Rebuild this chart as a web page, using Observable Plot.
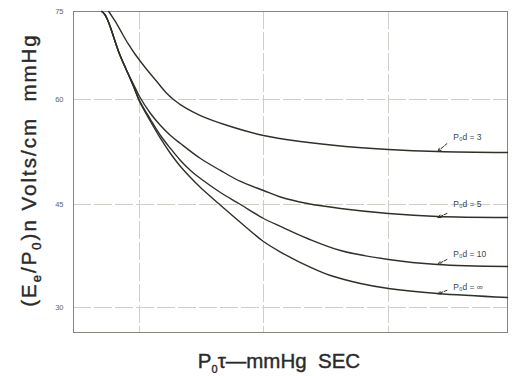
<!DOCTYPE html>
<html><head><meta charset="utf-8">
<script src="https://cdn.jsdelivr.net/npm/d3@7"></script>
<script src="https://cdn.jsdelivr.net/npm/@observablehq/plot@0.6"></script>
<style>
body{margin:0;background:#fff}
#chart{width:528px;height:376px}
</style>
</head><body><div id="chart"></div>
<script>
// ---- data ----
const seriesNames = ["d3", "d5", "d10", "dinf"];

const tauD3 = [5.62e-6, 6.05e-6, 6.65e-6, 7.30e-6, 8.15e-6, 9.12e-6, 1.019e-5, 1.18e-5, 1.40e-5, 1.62e-5, 1.88e-5, 2.35e-5, 3.10e-5, 5.13e-5, 1e-4, 1.98e-4, 4.53e-4, 1e-3, 2.58e-3, 1e-2];
const eD3   = [75, 73.98, 72.61, 71.08, 69.38, 67.84, 66.48, 64.77, 62.90, 61.28, 60.0, 58.79, 57.71, 56.29, 54.86, 54.0, 53.29, 52.86, 52.57, 52.43];

const tauD5 = [4.94e-6, 5.22e-6, 5.52e-6, 5.84e-6, 6.29e-6, 6.90e-6, 7.86e-6, 8.95e-6, 1e-5, 1.227e-5, 1.477e-5, 1.778e-5, 2.141e-5, 3.103e-5, 4.498e-5, 6.525e-5, 1e-4, 1.368e-4, 2.249e-4, 4.13e-4, 1e-3, 2.58e-3, 1e-2];
const eD5   = [75, 74.49, 73.47, 72.10, 70.06, 67.67, 64.94, 62.56, 60.51, 58.0, 56.29, 54.86, 53.71, 51.57, 49.86, 48.29, 47.0, 46.07, 45.14, 44.42, 43.69, 43.25, 43.11];

const tauD10 = [4.94e-6, 5.22e-6, 5.52e-6, 5.84e-6, 6.29e-6, 6.90e-6, 7.86e-6, 8.95e-6, 1e-5, 1.227e-5, 1.477e-5, 1.778e-5, 2.141e-5, 2.578e-5, 3.103e-5, 4.498e-5, 6.525e-5, 1e-4, 1.368e-4, 2.249e-4, 4.13e-4, 1e-3, 2.58e-3, 1e-2];
const eD10   = [75, 74.49, 73.47, 72.10, 70.06, 67.67, 64.94, 62.22, 59.86, 57.14, 54.86, 53.0, 51.29, 49.86, 48.71, 46.71, 45.0, 42.96, 41.80, 40.05, 38.30, 36.99, 36.26, 35.97];

const tauDinf = [4.94e-6, 5.22e-6, 5.52e-6, 5.84e-6, 6.29e-6, 6.90e-6, 7.86e-6, 8.95e-6, 1e-5, 1.227e-5, 1.477e-5, 1.778e-5, 2.141e-5, 2.578e-5, 3.103e-5, 3.737e-5, 4.335e-5, 6.525e-5, 1e-4, 1.368e-4, 1.977e-4, 3.436e-4, 5.97e-4, 1e-3, 2.58e-3, 1e-2];
const eDinf   = [75, 74.49, 73.47, 72.10, 70.06, 67.67, 64.94, 62.22, 59.71, 56.86, 54.43, 52.29, 50.43, 48.86, 47.43, 46.14, 45.14, 42.38, 39.61, 38.08, 36.55, 34.66, 33.50, 32.77, 32.04, 31.46];

const labelTexts = ["P₀d = 3", "P₀d = 5", "P₀d = 10", "P₀d = ∞"];
const labelTau   = [3.5e-3, 3.5e-3, 3.5e-3, 3.5e-3];
const labelE     = [54.6, 45.0, 37.7, 32.9];
const arrowFromTau = [3.1e-3, 3.1e-3, 3.1e-3, 3.1e-3];
const arrowFromE   = [53.7, 43.7, 37.0, 32.5];
const arrowToTau   = [2.6e-3, 2.6e-3, 2.6e-3, 2.6e-3];
const arrowToE     = [52.6, 43.1, 36.3, 32.0];

const xTicks = [1e-5, 1e-4, 1e-3, 1e-2];
const xTickLabels = ["10⁻⁵", "10⁻⁴", "10⁻³", "10⁻²"];
const yTicks = [30, 45, 60, 75];
const yTickLabels = ["30", "45", "60", "75"];

// ---- build tables ----
const taus = [tauD3, tauD5, tauD10, tauDinf];
const es = [eD3, eD5, eD10, eDinf];
const rows = [];
seriesNames.forEach((s, k) => taus[k].forEach((t, i) => rows.push({series: s, tau: t, e: es[k][i]})));
const labels = labelTexts.map((t, i) => ({text: t, tau: labelTau[i], e: labelE[i],
  x1: arrowFromTau[i], y1: arrowFromE[i], x2: arrowToTau[i], y2: arrowToE[i]}));

const W = 528, H = 376, mL = 73, mR = 21, mT = 11, mB = 44;
const ink = "#2e3128";
const gridColor = "#cfcfca";

const plot = Plot.plot({
  width: W, height: H,
  marginLeft: mL, marginRight: mR, marginTop: mT, marginBottom: mB,
  style: {fontFamily: "Liberation Sans, Arial, sans-serif", fontSize: "8px", color: "#555", background: "#fff"},
  x: {type: "log", domain: [2.9e-6, 1e-5, 1e-4, 1e-3, 1e-2], range: [mL, 139, 263, 388, W - mR]},
  y: {type: "linear", domain: [26.25, 30, 45, 60, 75], range: [H - mB, 307, 204, 99, mT]},
  marks: [
    Plot.ruleX(xTicks, {stroke: gridColor, strokeWidth: 1, strokeDasharray: "18,3"}),
    Plot.ruleY(yTicks, {stroke: gridColor, strokeWidth: 1, strokeDasharray: "18,3"}),
    Plot.frame({stroke: "#85857f", strokeWidth: 1}),
    Plot.axisX({ticks: xTicks, tickFormat: (d, i) => xTickLabels[i], tickSize: 0, tickPadding: 8, label: null, fontSize: 7.5, fill: "#666"}),
    Plot.axisY({ticks: yTicks, tickFormat: (d, i) => yTickLabels[i], tickSize: 0, tickPadding: 10, label: null, fontSize: 7.5, fill: "#666"}),
    Plot.line(rows, {x: "tau", y: "e", z: "series", curve: "catmull-rom", stroke: ink, strokeWidth: 1.4}),
    Plot.arrow(labels, {x1: "x1", y1: "y1", x2: "x2", y2: "y2", stroke: ink, strokeWidth: 1, headLength: 5, headAngle: 50, strokeDasharray: "3,1.5"}),
    Plot.text(labels, {x: "tau", y: "e", text: "text", textAnchor: "start", fontSize: 8.5, fill: "#444"})
  ]
});
document.getElementById("chart").appendChild(plot);

// axis titles with subscripts
const svg = d3.select(plot);
const yt = svg.append("text")
  .attr("transform", "translate(36,170) rotate(-90)")
  .attr("text-anchor", "middle")
  .attr("fill", "#2a2a2a")
  .attr("stroke", "#2a2a2a").attr("stroke-width", 0.4)
  .style("font-family", "Liberation Sans, Arial, sans-serif")
  .style("font-size", "20.5px")
  .style("letter-spacing", "2px")
  .style("white-space", "pre");
yt.append("tspan").text("(E");
yt.append("tspan").attr("dy", 5).style("font-size", "13px").text("e");
yt.append("tspan").attr("dy", -5).text("/P");
yt.append("tspan").attr("dy", 5).style("font-size", "13px").text("0");
yt.append("tspan").attr("dy", -5).text(")n Volts/cm  mmHg");

const xt = svg.append("text")
  .attr("x", 279).attr("y", 368)
  .attr("text-anchor", "middle")
  .attr("fill", "#2a2a2a")
  .attr("stroke", "#2a2a2a").attr("stroke-width", 0.4)
  .style("font-family", "Liberation Sans, Arial, sans-serif")
  .style("font-size", "20.5px")
  .style("white-space", "pre");
xt.append("tspan").text("P");
xt.append("tspan").attr("dy", 5).style("font-size", "11px").text("0");
xt.append("tspan").attr("dy", -5).text("τ—mmHg  SEC");
</script>
</body></html>
